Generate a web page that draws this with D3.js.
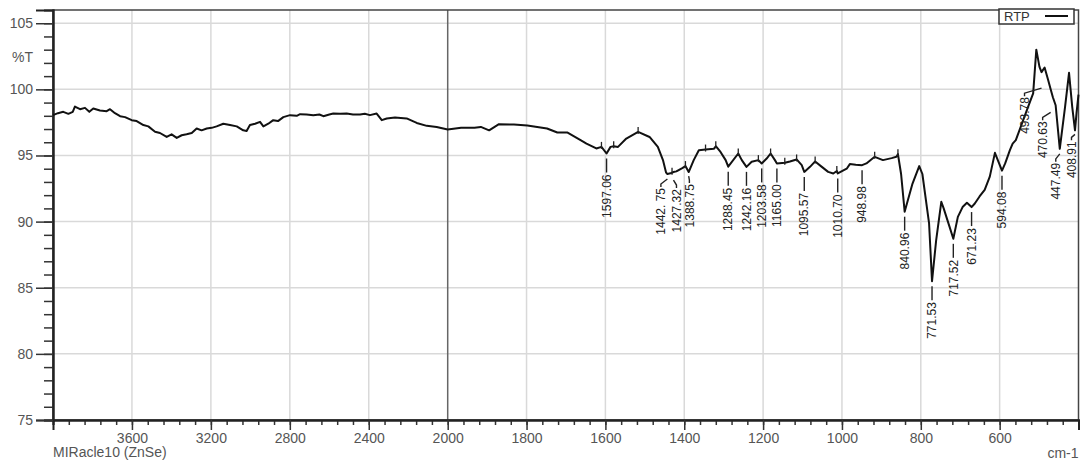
<!DOCTYPE html>
<html>
<head>
<meta charset="utf-8">
<script src="https://cdn.jsdelivr.net/npm/d3@7"></script>
<style>
  body { margin: 0; background: #fff; }
  svg { display: block; font-family: "Liberation Sans", Arial, sans-serif; }
</style>
</head>
<body>
<svg id="chart" width="1083" height="463"></svg>
<script>
// FTIR spectrum of sample RTP (MIRacle10 ZnSe ATR), %T versus wavenumber
const wavenumbers = [
  4000, 3975, 3948, 3922, 3900, 3889, 3863, 3838, 3816, 3796, 3762, 3728, 3711, 3686,
  3660, 3635, 3601, 3576, 3542, 3517, 3483, 3458, 3424, 3399, 3373, 3348, 3323, 3297,
  3272, 3247, 3221, 3196, 3171, 3137, 3103, 3069, 3036, 3019, 3002, 2976, 2951, 2934,
  2909, 2884, 2860, 2833, 2799, 2765, 2748, 2715, 2681, 2650, 2630, 2600, 2580, 2545,
  2512, 2480, 2444, 2420, 2394, 2360, 2334, 2309, 2267, 2208, 2157, 2106, 2056, 2000,
  1966, 1932, 1916, 1895, 1870, 1832, 1798, 1773, 1748, 1722, 1697, 1663, 1648, 1623,
  1610, 1597.06, 1587, 1579, 1568, 1547, 1517, 1488, 1467, 1454, 1446, 1442.75, 1435,
  1427.32, 1420, 1405, 1397, 1388.75, 1376, 1363, 1346, 1325, 1320, 1308, 1295, 1288.45,
  1263, 1254, 1242.16, 1229, 1212, 1203.58, 1191, 1181, 1170, 1165, 1145, 1132, 1115,
  1102, 1095.57, 1081, 1068, 1051, 1035, 1022, 1013, 1010.7, 988, 980, 965, 948.98,
  938, 917, 896, 874, 862, 858, 850, 840.96, 821, 804, 796, 779, 771.53, 761, 748, 742,
  727, 717.52, 706, 694, 683, 671.23, 663, 651, 638, 625, 612, 594.08, 586, 574, 567,
  559, 530, 515, 507, 499, 493.78, 486, 477, 470.63, 465, 458, 447.49, 434, 424, 416,
  408.91, 405, 400
];
const transmittance = [
  98.05, 98.2, 98.3, 98.15, 98.3, 98.7, 98.5, 98.6, 98.3, 98.55, 98.4, 98.35, 98.5, 98.2,
  97.97, 97.9, 97.67, 97.6, 97.3, 97.2, 96.8, 96.7, 96.4, 96.6, 96.33, 96.53, 96.6, 96.7,
  97.04, 96.9, 97.04, 97.09, 97.2, 97.4, 97.3, 97.2, 96.9, 96.85, 97.3, 97.4, 97.54, 97.2,
  97.4, 97.67, 97.6, 97.9, 98.05, 98.0, 98.12, 98.1, 98.05, 98.1, 97.97, 98.1, 98.17, 98.15,
  98.17, 98.1, 98.1, 98.15, 98.05, 98.17, 97.67, 97.8, 97.87, 97.8, 97.46, 97.24, 97.16, 96.96,
  97.1, 97.1, 97.16, 96.9, 97.37, 97.34, 97.27, 97.16, 97.04, 96.74, 96.74, 96.16, 95.9, 95.53,
  95.65, 95.15, 95.65, 95.7, 95.65, 96.28, 96.78, 96.4, 95.65, 94.65, 93.7, 93.6, 93.65,
  93.75, 93.8, 94.05, 94.2, 93.75, 94.65, 95.4, 95.45, 95.5, 95.7, 95.27, 94.65, 94.15,
  95.15, 94.65, 94.14, 94.52, 94.65, 94.4, 94.77, 95.15, 94.65, 94.4, 94.45, 94.55, 94.7,
  94.27, 93.76, 94.14, 94.55, 94.14, 93.76, 93.64, 93.83, 93.64, 94.0, 94.35, 94.3, 94.27,
  94.4, 94.9, 94.65, 94.8, 94.9, 95.1, 93.6, 90.75, 92.88, 94.2, 93.6, 89.86, 85.5, 88.6, 91.5, 91.0,
  89.6, 88.7, 90.36, 91.1, 91.42, 91.1, 91.37, 91.9, 92.4, 93.4, 95.2, 93.85, 94.4, 95.4, 95.9,
  96.16, 98.5, 99.7, 103.0, 101.7, 101.3, 101.65, 100.7, 100.0, 99.4, 98.8, 95.5, 98.7, 101.25, 98.7,
  96.9, 98.2, 99.6
];

// picked peaks and their printed labels
const peakWavenumbers = [1597.06, 1442.75, 1427.32, 1388.75, 1288.45, 1242.16, 1203.58, 1165.00,
  1095.57, 1010.70, 948.98, 840.96, 771.53, 717.52, 671.23, 594.08, 493.78, 470.63, 447.49, 408.91];
const peakLabels = ["1597.06", "1442. 75", "1427.32", "1388.75", "1288.45", "1242.16", "1203.58", "1165.00",
  "1095.57", "1010.70", "948.98", "840.96", "771.53", "717.52", "671.23", "594.08", "493.78", "470.63", "447.49", "408.91"];

// small peak-pick marks on local maxima
const markWavenumbers = [1610, 1579, 1517, 1431, 1397, 1346, 1320, 1263, 1212, 1181, 1145, 1115, 1068, 1013, 917, 858];

// axis ticks
const xMajorTicks = [3600, 3200, 2800, 2400, 2000, 1800, 1600, 1400, 1200, 1000, 800, 600];
const yMajorTicks = [75, 80, 85, 90, 95, 100, 105];
const seriesName = "RTP";

// ---- layout ----
const W = 1083, H = 463;
const plot = { left: 53, right: 1078.5, top: 10, bottom: 420 };

// the axis is expanded 2x below 2000 cm-1
const x = d3.scaleLinear().domain([4000, 2000, 400]).range([plot.left, 447.7, plot.right]);
const y = d3.scaleLinear().domain([75, 106]).range([plot.bottom, plot.top]);

// label placement for crowded peaks: [dx, dy] of text top from its peak point
const labelOffsets = {
  "1442.75": [-6.5, 14], "1427.32": [3, 17], "1388.75": [0.7, 12],
  "493.78": [-17, 25], "470.63": [-8, 32], "447.49": [-4, 14], "408.91": [-3.5, 11]
};

const svg = d3.select("#chart");
const points = wavenumbers.map((w, i) => [w, transmittance[i]]);
const tAt = w => {
  const i = wavenumbers.findIndex(v => v <= w);
  if (i <= 0) return transmittance[Math.max(i, 0)];
  const w0 = wavenumbers[i - 1], w1 = wavenumbers[i];
  const t = (w0 - w) / (w0 - w1);
  return transmittance[i - 1] + t * (transmittance[i] - transmittance[i - 1]);
};

// grid
const grid = svg.append("g");
grid.selectAll("line.v").data(xMajorTicks.filter(d => d !== 2000)).join("line")
  .attr("x1", d => x(d)).attr("x2", d => x(d))
  .attr("y1", plot.top).attr("y2", plot.bottom)
  .attr("stroke", "#d9d9d9").attr("stroke-width", 1.5);
grid.selectAll("line.h").data(yMajorTicks.filter(d => d !== 75)).join("line")
  .attr("x1", plot.left).attr("x2", plot.right)
  .attr("y1", d => y(d)).attr("y2", d => y(d))
  .attr("stroke", "#d9d9d9").attr("stroke-width", 1.5);
// scale change marker at 2000
svg.append("line")
  .attr("x1", x(2000)).attr("x2", x(2000)).attr("y1", plot.top).attr("y2", plot.bottom)
  .attr("stroke", "#666").attr("stroke-width", 1.5);

// frame
svg.append("rect")
  .attr("x", plot.left).attr("y", plot.top)
  .attr("width", plot.right - plot.left).attr("height", plot.bottom - plot.top)
  .attr("fill", "none").attr("stroke", "#444").attr("stroke-width", 1.5);

// x axis
const xMinor = d3.range(4000, 2000, -80).concat(d3.range(2000, 399, -40));
const xMinorAxis = svg.append("g").attr("transform", `translate(0,${plot.bottom})`)
  .call(d3.axisBottom(x).tickValues(xMinor).tickSize(5).tickFormat(""));
const xAxis = svg.append("g").attr("transform", `translate(0,${plot.bottom})`)
  .call(d3.axisBottom(x).tickValues(xMajorTicks).tickSize(10).tickPadding(3).tickFormat(d3.format("d")));

// y axis
const yMinor = d3.range(75, 106, 1);
const yMinorAxis = svg.append("g").attr("transform", `translate(${plot.left},0)`)
  .call(d3.axisLeft(y).tickValues(yMinor).tickSize(9).tickFormat(""));
const yAxis = svg.append("g").attr("transform", `translate(${plot.left},0)`)
  .call(d3.axisLeft(y).tickValues(yMajorTicks).tickSize(17).tickPadding(3).tickFormat(d3.format("d")));

[xMinorAxis, xAxis, yMinorAxis, yAxis].forEach(g => {
  g.select(".domain").attr("stroke", "#222").attr("stroke-width", 2);
  g.selectAll(".tick line").attr("stroke", "#333").attr("stroke-width", 1.5);
  g.selectAll(".tick text").attr("fill", "#555").style("font-size", "14px")
    .style("font-family", "'Liberation Sans', Arial, sans-serif");
});

// axis captions
svg.append("text").attr("x", 33).attr("y", 62).attr("text-anchor", "end")
  .attr("fill", "#555").style("font-size", "14px").text("%T");
svg.append("text").attr("x", plot.left).attr("y", 457)
  .attr("fill", "#555").style("font-size", "14px").text("MIRacle10 (ZnSe)");
svg.append("text").attr("x", plot.right).attr("y", 458).attr("text-anchor", "end")
  .attr("fill", "#555").style("font-size", "14px").text("cm-1");

// spectrum
const line = d3.line().x(d => x(d[0])).y(d => y(d[1]));
svg.append("path").datum(points)
  .attr("d", line).attr("fill", "none")
  .attr("stroke", "#111").attr("stroke-width", 2).attr("stroke-linejoin", "round");

// peak-pick marks
svg.append("g").selectAll("line").data(markWavenumbers).join("line")
  .attr("x1", d => x(d)).attr("x2", d => x(d))
  .attr("y1", d => y(tAt(d)) - 5).attr("y2", d => y(tAt(d)) + 2)
  .attr("stroke", "#222").attr("stroke-width", 1.3);

// peak labels with leaders
const peaks = peakWavenumbers.map((w, i) => {
  const key = w.toFixed(2);
  const off = labelOffsets[key];
  const mx = x(w), my = y(tAt(w));
  return { w, label: peakLabels[i], mx, my, off, tx: mx + (off ? off[0] : 0), ty: my + (off ? off[1] : 21) };
});
const pg = svg.append("g");
pg.selectAll("path").data(peaks).join("path")
  .attr("d", p => {
    if (!p.off) return `M${p.mx},${p.my + 5}V${p.ty - 2}`;
    const ly = Math.max(p.my + 4, p.ty - 9);
    return `M${p.tx},${p.ty - 1}V${p.ty - 4}L${p.mx},${ly}`;
  })
  .attr("fill", "none").attr("stroke", "#222").attr("stroke-width", 1.4);
pg.selectAll("text").data(peaks).join("text")
  .attr("transform", p => `translate(${p.tx},${p.ty}) rotate(-90)`)
  .attr("text-anchor", "end").attr("dy", "0.35em")
  .attr("fill", "#222").style("font-size", "12px")
  .text(p => p.label);

// legend
const lg = svg.append("g");
lg.append("rect").attr("x", 999).attr("y", 9).attr("width", 75).attr("height", 15)
  .attr("fill", "#fff").attr("stroke", "#333").attr("stroke-width", 1.5);
lg.append("text").attr("x", 1004).attr("y", 21).attr("fill", "#333")
  .style("font-size", "13px").text(seriesName);
lg.append("line").attr("x1", 1045).attr("x2", 1068).attr("y1", 16).attr("y2", 16)
  .attr("stroke", "#111").attr("stroke-width", 2);
</script>
</body>
</html>
